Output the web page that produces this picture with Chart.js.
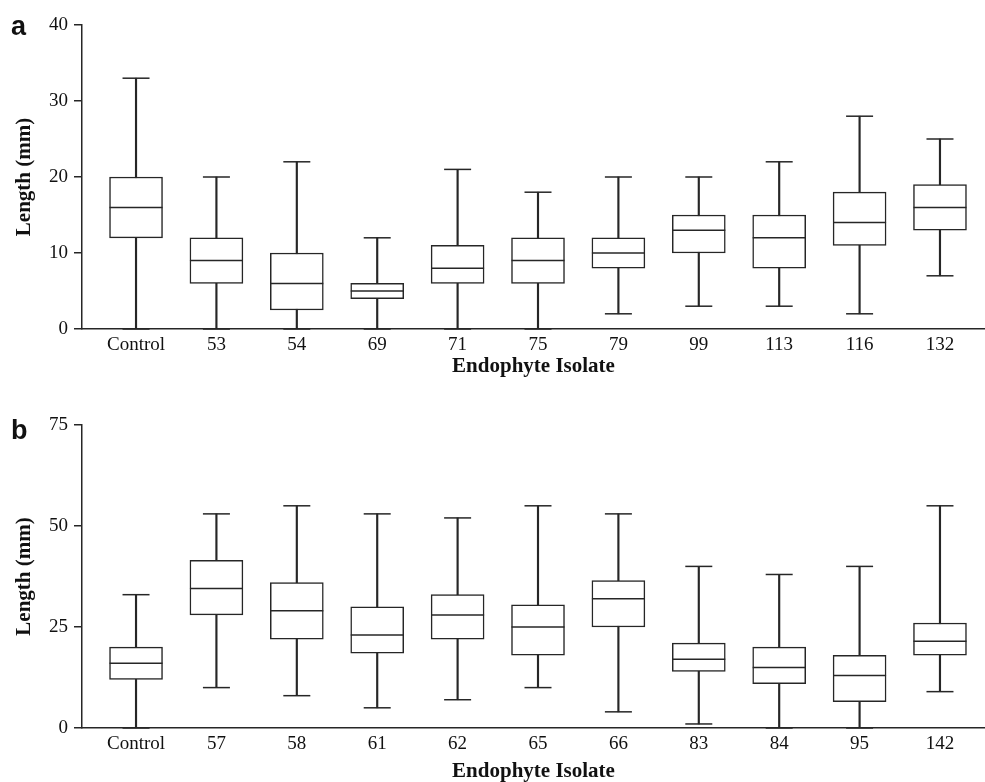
<!DOCTYPE html>
<html>
<head>
<meta charset="utf-8">
<script src="https://cdn.jsdelivr.net/npm/chart.js"></script>
<style>
  body { margin: 0; background: #fff; }
  #wrap { position: relative; width: 985px; height: 782px; }
  canvas { position: absolute; left: 0; }
</style>
</head>
<body>
<div id="wrap">
  <canvas id="chartA" width="985" height="390" style="top:0"></canvas>
  <canvas id="chartB" width="985" height="392" style="top:390px"></canvas>
</div>
<script>
// panel a
const catsA = ['Control', '53', '54', '69', '71', '75', '79', '99', '113', '116', '132'];
const minA = [0, 0, 0, 0, 0, 0, 2, 3, 3, 2, 7];
const q1A = [12, 6, 2.5, 4, 6, 6, 8, 10, 8, 11, 13];
const medA = [16, 9, 6, 5, 8, 9, 10, 13, 12, 14, 16];
const q3A = [20, 12, 10, 6, 11, 12, 12, 15, 15, 18, 19];
const maxA = [33, 20, 22, 12, 21, 18, 20, 20, 22, 28, 25];
const ticksA = [0, 10, 20, 30, 40];

// panel b
const catsB = ['Control', '57', '58', '61', '62', '65', '66', '83', '84', '95', '142'];
const minB = [0, 10, 8, 5, 7, 10, 4, 1, 0, 0, 9];
const q1B = [12, 28, 22, 18.5, 22, 18, 25, 14, 11, 6.5, 18];
const medB = [16, 34.5, 29, 23, 28, 25, 32, 17, 15, 13, 21.5];
const q3B = [20, 41.5, 36, 30, 33, 30.5, 36.5, 21, 20, 18, 26];
const maxB = [33, 53, 55, 53, 52, 55, 53, 40, 38, 40, 55];
const ticksB = [0, 25, 50, 75];

const ink = '#262626';
const serif = '"Liberation Serif", "Times New Roman", serif';

const panelLetter = {
  id: 'panelLetter',
  afterDraw(chart, args, opts) {
    const c = chart.ctx;
    c.save();
    c.font = 'bold 27px "Liberation Sans", Arial, sans-serif';
    c.fillStyle = '#111';
    c.textBaseline = 'alphabetic';
    c.fillText(opts.text, opts.x, opts.y);
    c.restore();
  }
};

function boxChart(id, letter, letterY, cats, mins, q1s, meds, q3s, maxs, yTicks, padTop, xHeight, titlePad) {
  const ctx = document.getElementById(id).getContext('2d');
  return new Chart(ctx, {
    type: 'bar',
    data: {
      datasets: [
        {
          type: 'scatter',
          data: meds.map((v, i) => ({ x: i, y: v })),
          pointStyle: 'line',
          pointRadius: 26.5,
          pointBorderColor: ink,
          pointBorderWidth: 1.5,
          borderColor: ink,
          clip: false,
          order: 0
        },
        {
          type: 'scatter',
          data: mins.map((v, i) => ({ x: i, y: v })).concat(maxs.map((v, i) => ({ x: i, y: v }))),
          pointStyle: 'line',
          pointRadius: 13.5,
          pointBorderColor: ink,
          pointBorderWidth: 1.5,
          borderColor: ink,
          clip: false,
          order: 1
        },
        {
          type: 'bar',
          data: q1s.map((v, i) => ({ x: i, y: [v, q3s[i]] })),
          backgroundColor: '#fff',
          borderColor: ink,
          borderWidth: 1.5,
          borderSkipped: false,
          barThickness: 53,
          grouped: false,
          clip: false,
          order: 2
        },
        {
          type: 'bar',
          data: mins.map((v, i) => ({ x: i, y: [v, maxs[i]] })),
          backgroundColor: ink,
          borderWidth: 0,
          barThickness: 1.5,
          grouped: false,
          clip: false,
          order: 3
        }
      ]
    },
    options: {
      responsive: false,
      animation: false,
      events: [],
      layout: { autoPadding: false, padding: { top: padTop, right: 0, bottom: 0, left: 0 } },
      plugins: {
        legend: { display: false },
        tooltip: { enabled: false },
        panelLetter: { text: letter, x: 11, y: letterY }
      },
      scales: {
        x: {
          type: 'linear',
          offset: false,
          min: -0.672,
          max: 10.56,
          afterBuildTicks: s => { s.ticks = cats.map((c, i) => ({ value: i })); },
          afterFit: s => { s.height = xHeight; s.paddingLeft = 0; s.paddingRight = 0; },
          ticks: {
            autoSkip: false,
            maxRotation: 0,
            padding: 5,
            color: '#111',
            font: { family: serif, size: 19 },
            callback: v => cats[v]
          },
          grid: { display: false, drawTicks: false, offset: false },
          border: { display: true, color: ink, width: 1.5 },
          title: {
            display: true,
            text: 'Endophyte Isolate',
            color: '#111',
            font: { family: serif, size: 21, weight: 'bold', lineHeight: 1 },
            padding: { top: 0, bottom: titlePad }
          }
        },
        y: {
          type: 'linear',
          min: yTicks[0],
          max: yTicks[yTicks.length - 1],
          afterBuildTicks: s => { s.ticks = yTicks.map(v => ({ value: v })); },
          afterFit: s => { s.width = 82; },
          ticks: {
            padding: 6,
            color: '#111',
            font: { family: serif, size: 19 }
          },
          grid: { drawOnChartArea: false, drawTicks: true, tickLength: 8, color: ink, lineWidth: 1.5 },
          border: { display: true, color: ink, width: 1.5 },
          title: {
            display: true,
            text: 'Length (mm)',
            color: '#111',
            font: { family: serif, size: 21, weight: 'bold', lineHeight: 1.2 },
            padding: { top: 12, bottom: 0 }
          }
        }
      }
    },
    plugins: [panelLetter]
  });
}

boxChart('chartA', 'a', 35, catsA, minA, q1A, medA, q3A, maxA, ticksA, 25, 61, 13);
boxChart('chartB', 'b', 49, catsB, minB, q1B, medB, q3B, maxB, ticksB, 35, 54, 0);
</script>
</body>
</html>
